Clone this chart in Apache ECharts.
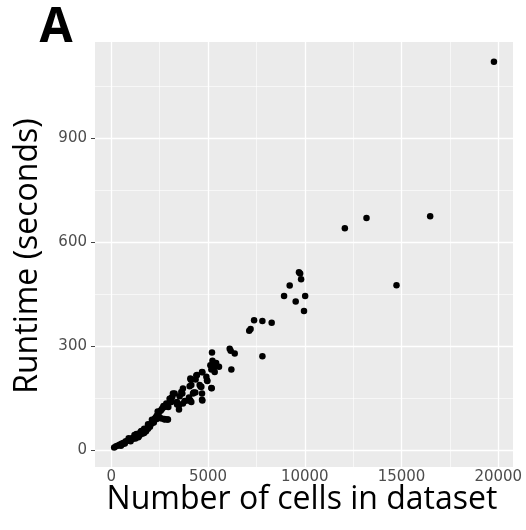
<!DOCTYPE html>
<html>
<head>
<meta charset="utf-8">
<script src="https://cdn.jsdelivr.net/npm/echarts@6/dist/echarts.min.js"></script>
<style>html,body{margin:0;padding:0;background:#fff}#c{width:526px;height:530px}</style>
</head>
<body>
<div id="c"></div>
<script>
// Number of cells in each dataset
const cells = [
  150,250,350,450,550,650,750,850,950,1050,1150,1250,1350,1450,1550,1650,1750,1850,1950,2050,
  2150,2250,2350,2450,2550,2650,600,900,1100,1300,1400,1500,1600,1700,1800,1900,2000,2100,2200,2300,
  2400,2500,2600,2750,2900,2800,2950,2757,2929,2600,2700,
  500,700,1000,1200,1450,1700,1900,2100,2350,1250,1550,
  3103,3154,3104,3394,3497,3704,3792,4016,3275,3533,3672,3704,4087,2845,2757,3500,3400,3016,3187,3621,
  3963,4137,4051,4258,4620,4690,4690,4396,4103,4948,4690,4344,4224,4656,4707,4430,4361,4087,4138,4568,
  4914,4966,4707,5172,5190,5120,5258,5310,5172,5568,5345,5420,5230,5205,
  6120,6172,6380,6206,7130,7200,7380,7810,8290,7810,8930,9220,9530,9700,9760,9810,10020,9960,
  12070,13190,16480,14740,19775
];
// Runtime (seconds)
const runtime = [
  8,12,14,17,20,22,26,28,31,34,37,40,43,46,50,55,58,64,70,76,
  84,92,100,108,114,122,18,35,33,47,38,52,48,62,55,75,68,88,80,95,
  112,95,92,90,89,128,125,89,89,118,128,
  13,20,26,44,42,50,62,78,90,34,56,
  151,154,139,139,130,135,142,152,164,156,164,178,144,135,125,118,132,149,164,168,
  144,139,185,167,183,164,146,216,204,202,226,167,164,183,144,217,204,207,188,188,
  212,200,225,233,179,245,248,239,180,241,226,252,258,282,
  293,287,279,233,345,350,375,373,368,271,445,475,429,513,510,493,445,402,
  640,670,675,476,1120
];
// Axis ticks
const xTicks = [0, 5000, 10000, 15000, 20000];
const xMinor = [2500, 7500, 12500, 17500];
const yTicks = [0, 300, 600, 900];
const yMinor = [150, 450, 750, 1050];

const points = cells.map((c, i) => [c, runtime[i]]);

const gridLines = []
  .concat(xTicks.map(v => ({ xAxis: v, lineStyle: { width: 1.3 } })))
  .concat(xMinor.map(v => ({ xAxis: v, lineStyle: { width: 0.6 } })))
  .concat(yTicks.map(v => ({ yAxis: v, lineStyle: { width: 1.3 } })))
  .concat(yMinor.map(v => ({ yAxis: v, lineStyle: { width: 0.6 } })));

const chart = echarts.init(document.getElementById('c'), null, { renderer: 'canvas' });
chart.setOption({
  animation: false,
  backgroundColor: '#ffffff',
  grid: { left: 95, right: 13, top: 42, bottom: 63, show: true, backgroundColor: '#ebebeb', borderWidth: 0 },
  xAxis: {
    type: 'value', min: -840, max: 20760,
    axisLine: { show: true, onZero: false, lineStyle: { color: 'rgba(0,0,0,0)' } },
    axisTick: { show: false },
    axisLabel: { customValues: xTicks, fontSize: 15, color: '#4d4d4d', fontFamily: 'DejaVu Sans', margin: 3, formatter: v => String(v) },
    splitLine: { show: false }
  },
  yAxis: {
    type: 'value', min: -48, max: 1177,
    axisLine: { show: true, onZero: false, lineStyle: { color: 'rgba(0,0,0,0)' } },
    axisTick: { show: true, customValues: yTicks, length: 4, lineStyle: { color: '#444', width: 1 } },
    axisLabel: { customValues: yTicks, fontSize: 15, color: '#4d4d4d', fontFamily: 'DejaVu Sans', margin: 8, formatter: v => String(v) },
    splitLine: { show: false }
  },
  graphic: [
    { type: 'text', x: 56, y: 28, style: { text: 'A', font: 'bold 48px "Open Sans"', fill: '#000', align: 'center', verticalAlign: 'middle' } },
    { type: 'text', x: 28, y: 256, rotation: Math.PI / 2, style: { text: 'Runtime (seconds)', font: '32px "Open Sans"', fill: '#000', align: 'center', verticalAlign: 'middle' } },
    { type: 'text', x: 302, y: 500, style: { text: 'Number of cells in dataset', font: '32px "Open Sans"', fill: '#000', align: 'center', verticalAlign: 'middle' } }
  ],
  series: [
    {
      type: 'scatter', data: [], z: 1, silent: true,
      markLine: { silent: true, symbol: 'none', label: { show: false }, lineStyle: { color: '#ffffff', type: 'solid' }, data: gridLines, animation: false }
    },
    {
      type: 'scatter', data: points, z: 5, symbolSize: 6.5,
      itemStyle: { color: '#000000', opacity: 1 }
    }
  ]
});
</script>
</body>
</html>
